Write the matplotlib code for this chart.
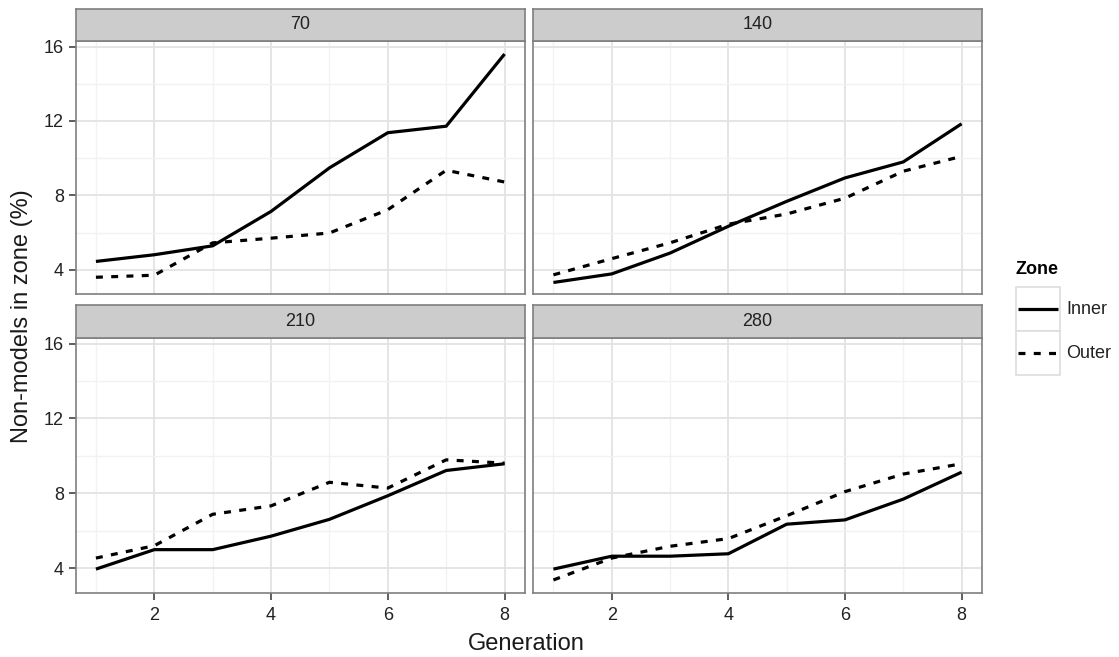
import matplotlib
matplotlib.use("Agg")
import matplotlib.pyplot as plt
from matplotlib.patches import Rectangle
from matplotlib.lines import Line2D

plt.rcParams['font.family'] = ['Liberation Sans', 'DejaVu Sans']
plt.rcParams['lines.scale_dashes'] = False

# ---------------- data ----------------
generation = [1, 2, 3, 4, 5, 6, 7, 8]
panel_labels = ['70', '140', '210', '280']
inner_70 = [4.45, 4.81, 5.29, 7.14, 9.48, 11.37, 11.72, 15.60]
outer_70 = [3.60, 3.71, 5.45, 5.70, 5.98, 7.23, 9.35, 8.72]
inner_140 = [3.32, 3.78, 4.90, 6.34, 7.68, 8.94, 9.80, 11.85]
outer_140 = [3.73, 4.60, 5.45, 6.45, 7.00, 7.85, 9.30, 10.10]
inner_210 = [3.95, 4.99, 4.99, 5.71, 6.61, 7.87, 9.22, 9.58]
outer_210 = [4.54, 5.20, 6.88, 7.33, 8.59, 8.28, 9.79, 9.61]
inner_280 = [3.95, 4.64, 4.64, 4.77, 6.35, 6.58, 7.69, 9.13]
outer_280 = [3.37, 4.54, 5.17, 5.58, 6.80, 8.09, 9.03, 9.58]
inner_series = [inner_70, inner_140, inner_210, inner_280]
outer_series = [outer_70, outer_140, outer_210, outer_280]
zone_labels = ['Inner', 'Outer']
x_ticks = [2, 4, 6, 8]
y_ticks = [4, 8, 12, 16]
x_minor = [1, 3, 5, 7]
y_minor = [6, 10, 14]

# ---------------- layout (pixels) ----------------
W, H = 1119, 657
fig = plt.figure(figsize=(W / 100, H / 100), dpi=100)


def rect(x0, y0, x1, y1):
    return [x0 / W, 1 - y1 / H, (x1 - x0) / W, (y1 - y0) / H]


cols = [(75.5, 525), (533, 982)]
rows = [((8.5, 41), (41, 294)), ((305, 338), (338, 592.5))]

border_col = '#7f7f7f'
text_col = '#222222'
tick_fs = 13

for i in range(4):
    r, c = divmod(i, 2)
    x0, x1 = cols[c]
    (sy0, sy1), (py0, py1) = rows[r]
    ax = fig.add_axes(rect(x0, py0, x1, py1))
    ax.set_xlim(0.65, 8.35)
    ax.set_ylim(2.7, 16.3)
    ax.set_xticks(x_ticks)
    ax.set_yticks(y_ticks)
    ax.set_xticks(x_minor, minor=True)
    ax.set_yticks(y_minor, minor=True)
    ax.grid(True, which='major', color='#e3e3e3', lw=1.3, zorder=0)
    ax.grid(True, which='minor', color='#f2f2f2', lw=1.0, zorder=0)
    ax.set_axisbelow(True)
    for sp in ax.spines.values():
        sp.set_color(border_col)
        sp.set_linewidth(1.2)
    ax.tick_params(which='minor', length=0)
    ax.tick_params(which='major', length=4.7, width=1.1, color='#333333',
                   labelsize=tick_fs, labelcolor=text_col)
    ax.tick_params(axis='x', pad=6.0)
    ax.tick_params(axis='y', pad=3.5)
    if c != 0:
        ax.tick_params(axis='y', which='major', length=0, labelleft=False)
    if r != 1:
        ax.tick_params(axis='x', which='major', length=0, labelbottom=False)
    ax.plot(generation, inner_series[i], color='black', lw=2.3,
            solid_capstyle='butt', zorder=3)
    ax.plot(generation, outer_series[i], color='black', lw=2.3,
            dashes=(5, 6), dash_capstyle='butt', zorder=3)

    sax = fig.add_axes(rect(x0, sy0, x1, sy1))
    sax.set_facecolor('#cccccc')
    sax.set_xticks([])
    sax.set_yticks([])
    for sp in sax.spines.values():
        sp.set_color(border_col)
        sp.set_linewidth(1.2)
    sax.text(0.5, 0.5, panel_labels[i], ha='center', va='center',
             fontsize=tick_fs, color=text_col, transform=sax.transAxes)

# axis titles
fig.text(526 / W, 1 - 650 / H, 'Generation', ha='center', va='baseline',
         fontsize=17, color='#1a1a1a')
fig.text(22 / W, 1 - 316 / H, 'Non-models in zone (%)', ha='center',
         va='center', rotation=90, fontsize=17, color='#1a1a1a')


# legend (drawn in figure pixel space)
def fx(x):
    return x / W


def fy(y):
    return 1 - y / H


fig.text(fx(1015), fy(270), 'Zone', ha='left', va='center', fontsize=13,
         fontweight='bold', color='black')
key_rows = [(287, 331), (331, 375)]
styles = [dict(), dict(dashes=(5, 6), dash_capstyle='butt')]
for k, ((ky0, ky1), lab) in enumerate(zip(key_rows, zone_labels)):
    fig.add_artist(Rectangle((fx(1016), fy(ky1)), (1060 - 1016) / W,
                             (ky1 - ky0) / H, transform=fig.transFigure,
                             facecolor='white', edgecolor='#dddddd', lw=1.2))
    yc = (ky0 + ky1) / 2
    fig.add_artist(Line2D([fx(1018), fx(1058)], [fy(yc), fy(yc)],
                          transform=fig.transFigure, color='black', lw=2.3,
                          solid_capstyle='butt', **styles[k]))
    fig.text(fx(1066), fy(yc), lab, ha='left', va='center', fontsize=13,
             color=text_col)

fig.savefig('out.png', dpi=100)
